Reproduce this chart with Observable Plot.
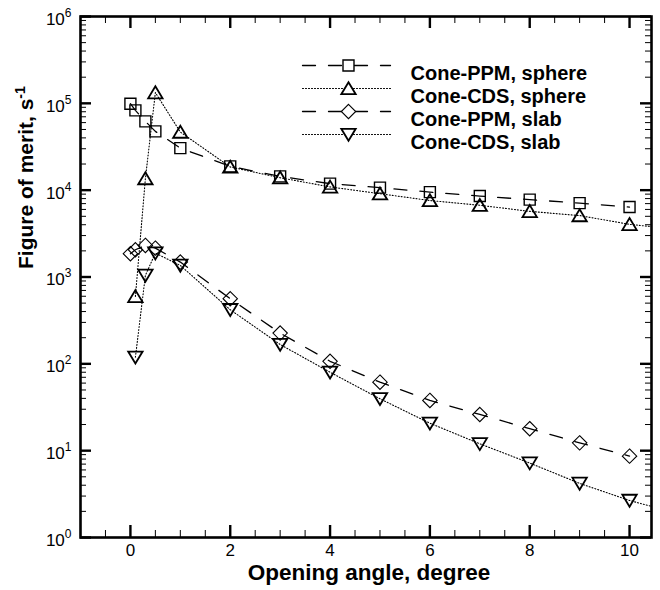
<!DOCTYPE html>
<html><head><meta charset="utf-8">
<script src="https://cdn.jsdelivr.net/npm/d3@7"></script>
<script src="https://cdn.jsdelivr.net/npm/@observablehq/plot@0.6"></script>
<style>body{margin:0;background:#fff}#chart{width:660px;height:590px}</style>
</head><body><div id="chart"></div>
<script>
// ---- data ----
const anglesPPM = [0, 0.1, 0.3, 0.5, 1, 2, 3, 4, 5, 6, 7, 8, 9, 10];
const anglesCDS = [0.1, 0.3, 0.5, 1, 2, 3, 4, 5, 6, 7, 8, 9, 10];
const ppmSphere = [99000, 83000, 62000, 47500, 30500, 18800, 14400, 11900, 10700, 9500, 8550, 7780, 7100, 6390];
const cdsSphere = [598, 13600, 133000, 46700, 18500, 13900, 10900, 9100, 7600, 6700, 5700, 5100, 4040];
const ppmSlab = [1855, 2060, 2310, 2150, 1485, 562, 226, 107, 61.5, 37.9, 26.1, 17.9, 12.3, 8.65];
const cdsSlab = [119, 1043, 1885, 1360, 420, 167, 80, 39.6, 20.7, 12.0, 7.2, 4.2, 2.67];
// dotted CDS curves continue to the right frame edge
const cdsTailAngle = 10.44;
const cdsSphereTail = 3800;
const cdsSlabTail = 2.28;

const seriesNames = ["Cone-PPM, sphere", "Cone-CDS, sphere", "Cone-PPM, slab", "Cone-CDS, slab"];
const xMajorTicks = [0, 2, 4, 6, 8, 10];
const xMinorTicks = [-0.5, 0.5, 1, 1.5, 2.5, 3, 3.5, 4.5, 5, 5.5, 6.5, 7, 7.5, 8.5, 9, 9.5];
const yExponents = [0, 1, 2, 3, 4, 5, 6];
const xTitle = "Opening angle, degree";
const yTitle = "Figure of merit, s";
const yTitleSup = "-1";

// ---- symbols ----
const rad = s => Math.sqrt(s / Math.PI);
const symSquare = {draw(c, s) { const r = rad(s); c.moveTo(-r, -r); c.lineTo(r, -r); c.lineTo(r, r); c.lineTo(-r, r); c.closePath(); }};
const symTri = {draw(c, s) { const r = rad(s); c.moveTo(0, -1.05 * r); c.lineTo(1.2 * r, 0.95 * r); c.lineTo(-1.2 * r, 0.95 * r); c.closePath(); }};
const symTriDown = {draw(c, s) { const r = rad(s); c.moveTo(0, 1.05 * r); c.lineTo(1.2 * r, -0.95 * r); c.lineTo(-1.2 * r, -0.95 * r); c.closePath(); }};
const symDiamond = {draw(c, s) { const r = rad(s); c.moveTo(0, -1.2 * r); c.lineTo(1.2 * r, 0); c.lineTo(0, 1.2 * r); c.lineTo(-1.2 * r, 0); c.closePath(); }};
const hLine = {draw(c, l) { c.moveTo(0, 0); c.lineTo(0, -l); }};

const toRows = (xs, ys) => xs.map((x, i) => ({x, y: ys[i]}));
const series = [
  {name: seriesNames[0], pts: toRows(anglesPPM, ppmSphere), line: toRows(anglesPPM, ppmSphere), dash: "13,13", lw: 1.3, sym: symSquare, r: 5.5, sw: 1.4},
  {name: seriesNames[1], pts: toRows(anglesCDS, cdsSphere), line: toRows([...anglesCDS, cdsTailAngle], [...cdsSphere, cdsSphereTail]), dash: "1,2", lw: 1.1, sym: symTri, r: 6, sw: 1.8},
  {name: seriesNames[2], pts: toRows(anglesPPM, ppmSlab), line: toRows(anglesPPM, ppmSlab), dash: "13,13", lw: 1.3, sym: symDiamond, r: 6, sw: 1.1},
  {name: seriesNames[3], pts: toRows(anglesCDS, cdsSlab), line: toRows([...anglesCDS, cdsTailAngle], [...cdsSlab, cdsSlabTail]), dash: "1,2", lw: 1.1, sym: symTriDown, r: 6, sw: 1.8}
];

const W = 660, H = 590, mL = 80, mR = 9, mT = 16, mB = 53;
const pW = W - mL - mR, pH = H - mT - mB;
const yMinor = [];
for (let e = 0; e < 6; e++) for (let k = 2; k <= 9; k++) yMinor.push(k * Math.pow(10, e));
const yMajor = yExponents.map(e => Math.pow(10, e));

const marks = [];
// data curves
series.forEach(s => {
  marks.push(Plot.line(s.line, {x: "x", y: "y", stroke: "black", strokeWidth: s.lw, strokeDasharray: s.dash}));
});
series.forEach(s => {
  marks.push(Plot.dot(s.pts, {x: "x", y: "y", symbol: s.sym, r: s.r, stroke: "black", strokeWidth: s.sw, fill: "none"}));
});
// inward ticks
marks.push(
  Plot.tickX(xMajorTicks, {x: d => d, insetTop: pH - 12, stroke: "black", strokeWidth: 2.4}),
  Plot.tickX(xMinorTicks, {x: d => d, insetTop: pH - 7, stroke: "black", strokeWidth: 1}),
  Plot.tickX(xMajorTicks, {x: d => d, insetBottom: pH - 12, stroke: "black", strokeWidth: 2.4}),
  Plot.tickX(xMinorTicks, {x: d => d, insetBottom: pH - 7, stroke: "black", strokeWidth: 1}),
  Plot.tickY(yMajor, {y: d => d, insetRight: pW - 11, stroke: "black", strokeWidth: 2.4}),
  Plot.tickY(yMinor, {y: d => d, insetRight: pW - 6, stroke: "black", strokeWidth: 1}),
  Plot.tickY(yMajor, {y: d => d, insetLeft: pW - 11, stroke: "black", strokeWidth: 2.4}),
  Plot.tickY(yMinor, {y: d => d, insetLeft: pW - 6, stroke: "black", strokeWidth: 1}),
  Plot.frame({stroke: "black", strokeWidth: 2.6})
);
// axis labels
marks.push(
  Plot.axisX(xMajorTicks, {anchor: "bottom", tickSize: 0, tickPadding: 6, fontSize: 17, label: null, tickFormat: d => String(d)}),
  Plot.text(yMajor, {y: d => d, frameAnchor: "left", dx: -9, dy: 3, textAnchor: "end", text: d => "10", fontSize: 17, ariaDescription: "ylabels"}),
  Plot.text([xTitle], {frameAnchor: "bottom", dx: 3, dy: 42, text: d => d, fontSize: 22.5, fontWeight: "bold"}),
  Plot.text([yTitle], {frameAnchor: "left", dx: -54, dy: -8, rotate: -90, text: d => d, fontSize: 21, fontWeight: "bold", ariaDescription: "ytitle"})
);
// legend
series.forEach((s, i) => {
  const dy = 49 + 23 * i;
  marks.push(
    Plot.vector([0], {frameAnchor: "top-left", dx: 222, dy, rotate: 90, length: 88, anchor: "start", shape: hLine, stroke: "black", strokeWidth: s.lw, strokeDasharray: s.dash}),
    Plot.dot([0], {frameAnchor: "top-left", dx: 268, dy, symbol: s.sym, r: s.r, stroke: "black", strokeWidth: s.sw, fill: "white"}),
    Plot.text([s.name], {frameAnchor: "top-left", dx: 330, dy, text: d => d, textAnchor: "start", fontSize: 20, fontWeight: "bold"})
  );
});

const chart = Plot.plot({
  width: W, height: H,
  marginLeft: mL, marginRight: mR, marginTop: mT, marginBottom: mB,
  style: {fontFamily: "'Liberation Sans', Arial, Helvetica, sans-serif", background: "white", color: "black", overflow: "visible"},
  x: {domain: [-1, 10.44], axis: null, label: null},
  y: {type: "log", domain: [1, 1e6], axis: null, label: null},
  marks
});

// superscripts
const NS = "http://www.w3.org/2000/svg";
const ylab = chart.querySelectorAll('g[aria-description="ylabels"] text');
ylab.forEach((t, i) => {
  const sp = document.createElementNS(NS, "tspan");
  sp.setAttribute("dy", "-8");
  sp.setAttribute("font-size", "12");
  sp.textContent = String(yExponents[i]);
  t.appendChild(sp);
});
const yt = chart.querySelector('g[aria-description="ytitle"] text');
if (yt) {
  const sp = document.createElementNS(NS, "tspan");
  sp.setAttribute("dy", "-8");
  sp.setAttribute("font-size", "14");
  sp.textContent = yTitleSup;
  yt.appendChild(sp);
}
document.getElementById("chart").appendChild(chart);
</script>
</body></html>
